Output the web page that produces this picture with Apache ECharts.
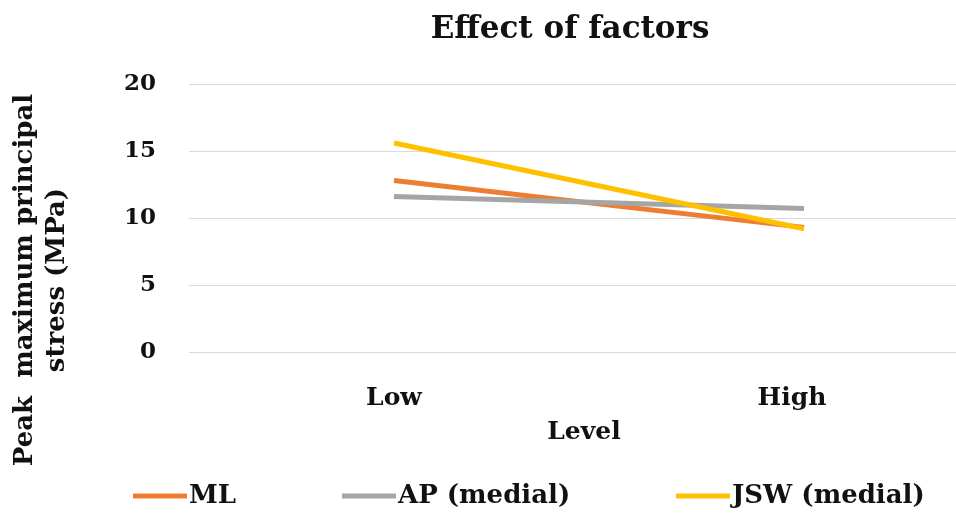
<!DOCTYPE html>
<html>
<head>
<meta charset="utf-8">
<script src="https://cdn.jsdelivr.net/npm/echarts@6/dist/echarts.min.js"></script>
<style>html,body{margin:0;padding:0;background:#fff}#c{width:956px;height:515px}</style>
</head>
<body>
<div id="c"></div>
<script>
const categories = ['Low', 'High'];
const seriesNames = ['ML', 'AP (medial)', 'JSW (medial)'];
const mlValues = [12.8, 9.3];
const apValues = [11.6, 10.7];
const jswValues = [15.6, 9.2];
const yTicks = [0, 5, 10, 15, 20];

const FONT = '"DejaVu Serif", "Liberation Serif", serif';
const colors = ['#ED7D31', '#A5A5A5', '#FFC000'];
const chart = echarts.init(document.getElementById('c'));
const dataList = [mlValues, apValues, jswValues];
const legendLefts = [128, 337, 671];
const lblStyle = {fontFamily: FONT, fontWeight: 'bold', fontSize: 25, color: '#111'};
chart.setOption({
  animation: false,
  backgroundColor: '#fff',
  title: {
    text: 'Effect of factors', left: 565, top: 9, textAlign: 'center',
    textStyle: {fontFamily: FONT, fontWeight: 'bold', fontSize: 31, color: '#111'}
  },
  legend: seriesNames.map((n, i) => ({
    left: legendLefts[i], top: 478, itemWidth: 54, itemHeight: 5,
    icon: 'rect',
    textStyle: {fontFamily: FONT, fontWeight: 'bold', fontSize: 26, color: '#111', padding: [0,0,0,-3]},
    data: [n]
  })),
  graphic: [{
    type: 'text', x: 41, y: 280, rotation: Math.PI / 2,
    style: {
      text: 'Peak  maximum principal\nstress (MPa)', fontFamily: FONT, fontWeight: 'bold',
      fontSize: 26, lineHeight: 32, fill: '#111', align: 'center', verticalAlign: 'middle'
    }
  }],
  grid: {left: 189, top: 84, width: 820, height: 268, containLabel: false, outerBoundsMode: 'none'},
  xAxis: {
    type: 'category', data: categories, boundaryGap: true,
    name: 'Level', nameLocation: 'middle', nameGap: 68,
    nameTextStyle: {fontFamily: FONT, fontWeight: 'bold', fontSize: 25, color: '#111', padding: [0, 30, 0, 0]},
    axisLine: {show: false}, axisTick: {show: false},
    axisLabel: Object.assign({}, lblStyle, {
      margin: 34,
      formatter: (v, idx) => idx === 1 ? '{h|' + v + '}' : '{l|' + v + '}',
      rich: {
        l: Object.assign({}, lblStyle),
        h: Object.assign({}, lblStyle, {padding: [0, 24, 0, 0]})
      }
    })
  },
  yAxis: {
    type: 'value', min: yTicks[0], max: yTicks[yTicks.length - 1], interval: 5,
    axisLine: {show: false}, axisTick: {show: false},
    splitLine: {lineStyle: {color: '#d9d9d9', width: 1}},
    axisLabel: {fontFamily: FONT, fontWeight: 'bold', fontSize: 23, color: '#111', margin: 33}
  },
  series: seriesNames.map((n, i) => ({
    name: n, type: 'line', data: dataList[i], symbol: 'none',
    lineStyle: {color: colors[i], width: 5}, itemStyle: {color: colors[i]}
  }))
});
</script>
</body>
</html>
